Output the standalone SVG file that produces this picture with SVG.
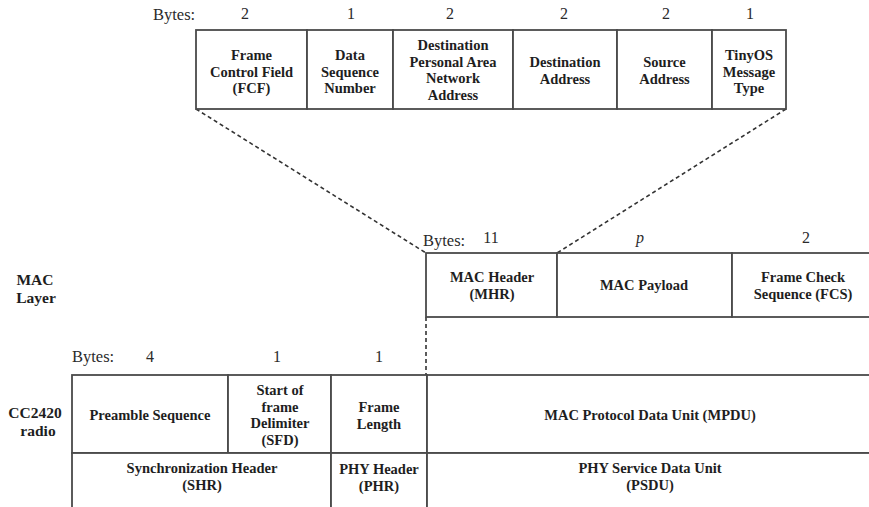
<svg xmlns="http://www.w3.org/2000/svg" width="869" height="507" viewBox="0 0 869 507">
<style>
.cell{fill:#fff;stroke:#4a4a4a;stroke-width:1.8}
.t{font-family:"Liberation Serif","Times New Roman",serif;font-weight:bold;font-size:14.5px;fill:#1e1e1e;text-anchor:middle}
.b{font-family:"Liberation Serif","Times New Roman",serif;font-size:16.5px;fill:#2a2a2a}
.n{font-family:"Liberation Serif","Times New Roman",serif;font-size:16px;fill:#2a2a2a;text-anchor:middle}
.lab{font-family:"Liberation Serif","Times New Roman",serif;font-weight:bold;font-size:15.5px;fill:#1e1e1e;text-anchor:middle}
.dash{fill:none;stroke:#333;stroke-width:1.6;stroke-dasharray:4 3}
</style>
<rect width="869" height="507" fill="#fff"/>

<g id="connectors">
<line class="dash" x1="196" y1="109" x2="426" y2="253"/>
<line class="dash" x1="786" y1="109" x2="557" y2="253"/>
<line class="dash" x1="426" y1="317" x2="426" y2="375"/>
</g>

<g id="mhr-fields">
<text class="b" x="153" y="20">Bytes:</text>
<text class="n" x="245" y="18.5">2</text>
<text class="n" x="351" y="18.5">1</text>
<text class="n" x="450" y="18.5">2</text>
<text class="n" x="564" y="18.5">2</text>
<text class="n" x="666" y="18.5">2</text>
<text class="n" x="750" y="18.5">1</text>
</g>
<g id="fcf"><rect class="cell" x="196" y="30" width="111" height="79"/>
<text class="t" x="251.5" y="60">Frame</text><text class="t" x="251.5" y="76.5">Control Field</text><text class="t" x="251.5" y="93">(FCF)</text></g>
<g id="dsn"><rect class="cell" x="307" y="30" width="86" height="79"/>
<text class="t" x="350" y="60">Data</text><text class="t" x="350" y="76.5">Sequence</text><text class="t" x="350" y="93">Number</text></g>
<g id="dpan"><rect class="cell" x="393" y="30" width="120" height="79"/>
<text class="t" x="453" y="50">Destination</text><text class="t" x="453" y="66.5">Personal Area</text><text class="t" x="453" y="83">Network</text><text class="t" x="453" y="99.5">Address</text></g>
<g id="da"><rect class="cell" x="513" y="30" width="104" height="79"/>
<text class="t" x="565" y="67">Destination</text><text class="t" x="565" y="83.5">Address</text></g>
<g id="sa"><rect class="cell" x="617" y="30" width="95" height="79"/>
<text class="t" x="664.5" y="67">Source</text><text class="t" x="664.5" y="83.5">Address</text></g>
<g id="tinyos"><rect class="cell" x="712" y="30" width="74" height="79"/>
<text class="t" x="749" y="60">TinyOS</text><text class="t" x="749" y="76.5">Message</text><text class="t" x="749" y="93">Type</text></g>

<g id="mac-layer-label">
<text class="lab" x="35" y="285">MAC</text>
<text class="lab" x="36" y="303">Layer</text>
</g>
<g id="mac-bytes">
<text class="b" x="423" y="246">Bytes:</text>
<text class="n" x="491" y="243">11</text>
<text class="n" x="640" y="243" font-style="italic">p</text>
<text class="n" x="806" y="243">2</text>
</g>
<g id="mhr"><rect class="cell" x="426" y="253" width="131" height="64"/>
<text class="t" x="492" y="282">MAC Header</text><text class="t" x="492" y="298.5">(MHR)</text></g>
<g id="payload"><rect class="cell" x="557" y="253" width="175" height="64"/>
<text class="t" x="644" y="290">MAC Payload</text></g>
<g id="fcs"><rect class="cell" x="732" y="253" width="150" height="64"/>
<text class="t" x="803" y="282">Frame Check</text><text class="t" x="803" y="298.5">Sequence (FCS)</text></g>

<g id="radio-label">
<text class="lab" x="35" y="418">CC2420</text>
<text class="lab" x="38" y="436">radio</text>
</g>
<g id="phy-bytes">
<text class="b" x="72" y="362">Bytes:</text>
<text class="n" x="150" y="362">4</text>
<text class="n" x="277" y="362">1</text>
<text class="n" x="379" y="362">1</text>
</g>
<g id="preamble"><rect class="cell" x="72" y="375" width="156" height="78"/>
<text class="t" x="150" y="419.5">Preamble Sequence</text></g>
<g id="sfd"><rect class="cell" x="228" y="375" width="103" height="78"/>
<text class="t" x="280" y="395">Start of</text><text class="t" x="280" y="411.5">frame</text><text class="t" x="280" y="428">Delimiter</text><text class="t" x="280" y="444.5">(SFD)</text></g>
<g id="frame-length"><rect class="cell" x="331" y="375" width="96" height="78"/>
<text class="t" x="379" y="412">Frame</text><text class="t" x="379" y="428.5">Length</text></g>
<g id="mpdu"><rect class="cell" x="427" y="375" width="455" height="78"/>
<text class="t" x="650" y="420">MAC Protocol Data Unit (MPDU)</text></g>
<g id="shr"><rect class="cell" x="72" y="453" width="259" height="64"/>
<text class="t" x="202" y="473">Synchronization Header</text><text class="t" x="202" y="490">(SHR)</text></g>
<g id="phr"><rect class="cell" x="331" y="453" width="96" height="64"/>
<text class="t" x="379" y="474">PHY Header</text><text class="t" x="379" y="491">(PHR)</text></g>
<g id="psdu"><rect class="cell" x="427" y="453" width="455" height="64"/>
<text class="t" x="650" y="473">PHY Service Data Unit</text><text class="t" x="650" y="490">(PSDU)</text></g>
</svg>
